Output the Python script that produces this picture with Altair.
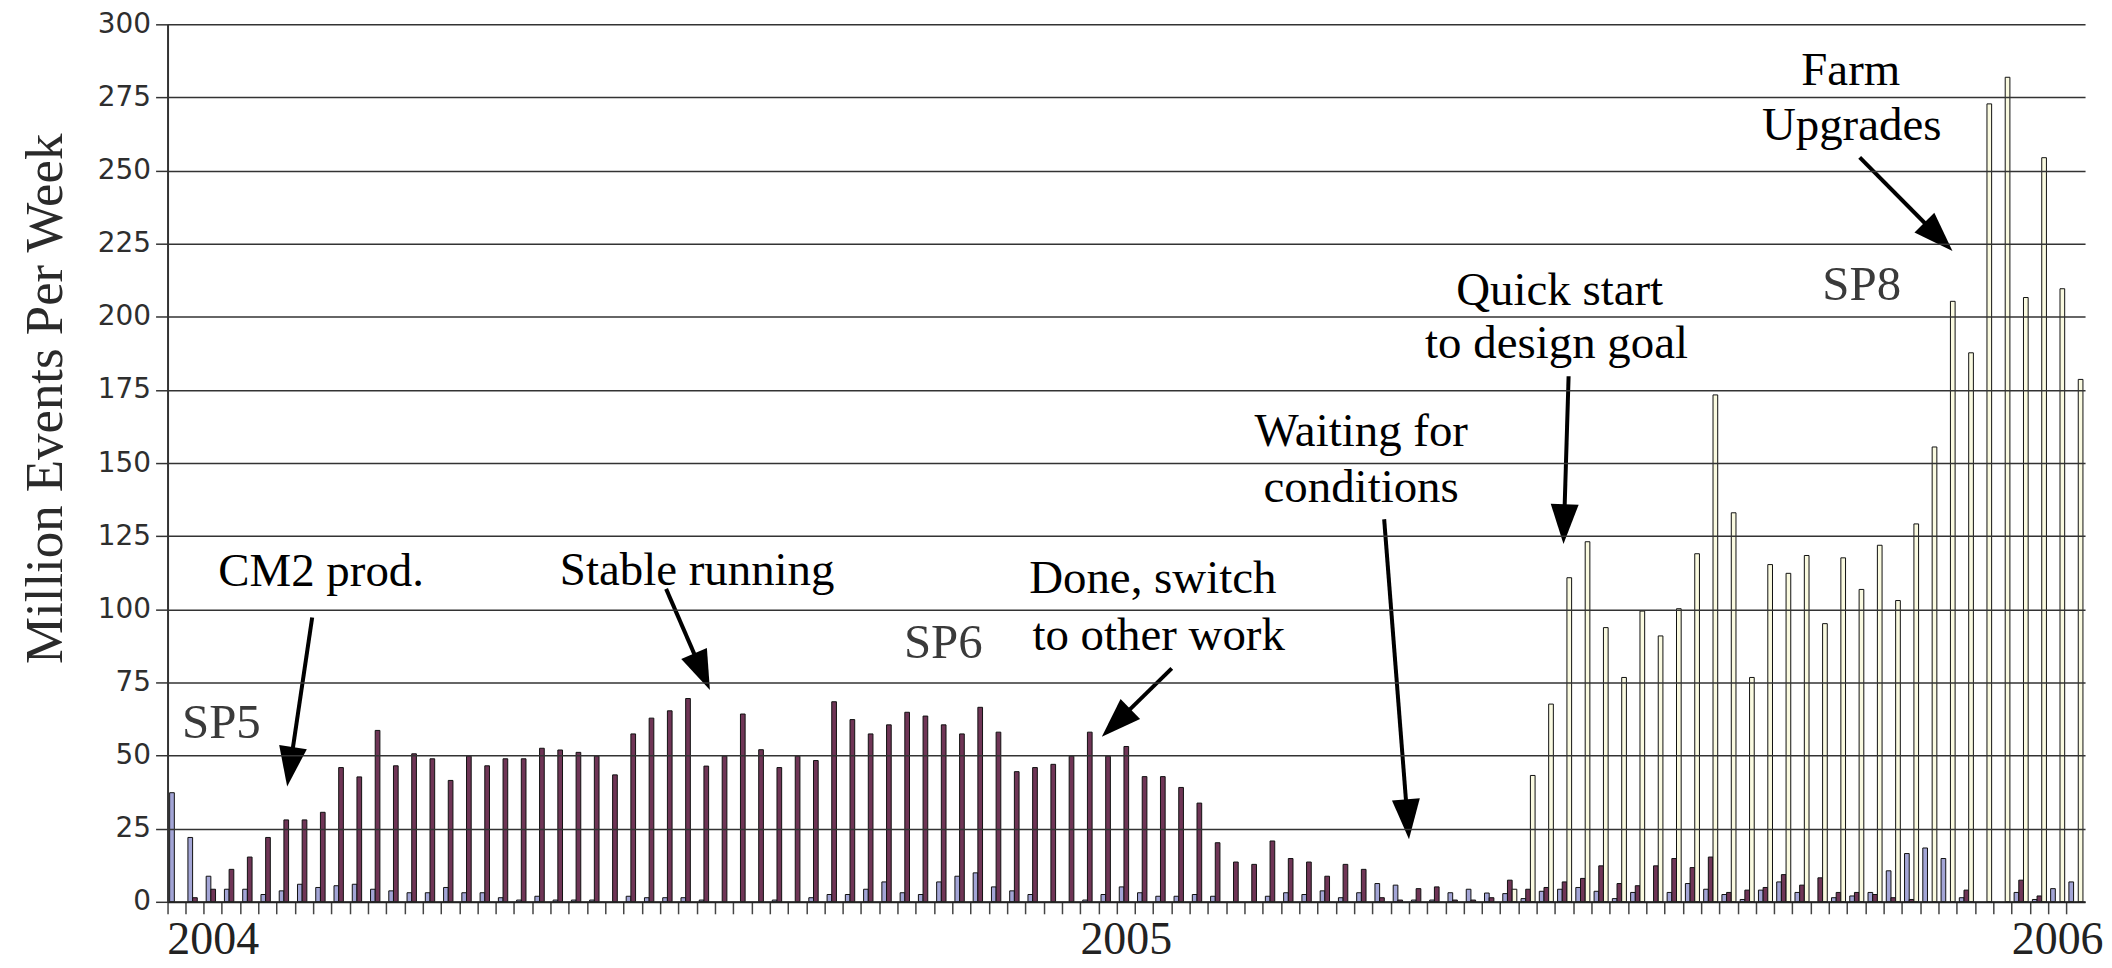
import math
import altair as alt
import pandas as pd

# ---------------- data ----------------
weeks = list(range(105))
series_names = ["SP5", "SP6", "SP8"]
series_colors = ["#a3a5d6", "#6f3556", "#fafae0"]

sp5 = [37.3, 22.0, 8.75, 4.3, 4.3, 2.5, 3.75, 6.0, 4.9, 5.5,
       6.0, 4.3, 3.75, 3.1, 3.1, 4.9, 3.1, 3.1, 1.4, 0.6,
       1.9, 0.6, 0.6, 0.6, 0, 1.9, 1.4, 1.4, 1.4, 0.6,
       0, 0, 0, 0.6, 0, 1.4, 2.5, 2.5, 4.3, 6.8,
       3.1, 2.5, 6.8, 8.75, 9.9, 5.1, 3.75, 2.5, 0, 0,
       0.6, 2.5, 5.1, 3.1, 1.9, 1.9, 2.5, 1.9, 0, 0,
       1.9, 3.1, 2.5, 3.75, 1.4, 3.1, 6.25, 5.7, 0.6, 0.6,
       3.1, 4.3, 3.0, 2.8, 1.1, 3.6, 4.3, 4.9, 3.6, 1.1,
       3.2, 0, 3.2, 6.25, 4.3, 2.5, 0.8, 4.0, 6.8, 3.2,
       0, 1.4, 2.0, 3.2, 10.6, 16.5, 18.4, 14.8, 1.4, 0,
       0, 3.2, 0.8, 4.5, 6.8]

sp6 = [0, 1.4, 4.3, 11.1, 15.3, 22.0, 28.0, 28.0, 30.6, 45.9,
       42.7, 58.6, 46.5, 50.6, 48.9, 41.5, 49.8, 46.5, 48.9, 48.9,
       52.5, 51.9, 51.1, 49.8, 43.4, 57.4, 62.8, 65.3, 69.5, 46.4,
       49.8, 64.2, 52.0, 45.9, 49.8, 48.3, 68.4, 62.3, 57.4, 60.5,
       64.8, 63.5, 60.5, 57.4, 66.5, 58.0, 44.5, 45.9, 47.0, 49.8,
       58.0, 49.8, 53.1, 42.8, 42.8, 39.1, 33.75, 20.2, 13.6, 12.8,
       20.8, 14.8, 13.6, 8.75, 12.8, 11.1, 1.4, 0.6, 4.5, 5.1,
       0.6, 0.6, 1.4, 7.4, 4.3, 4.9, 6.8, 8.0, 12.3, 6.25,
       5.5, 12.3, 14.8, 11.7, 15.3, 3.2, 4.0, 4.9, 9.3, 5.7,
       8.2, 3.2, 3.2, 2.5, 1.4, 0.8, 0, 0, 4.0, 0,
       0, 7.4, 2.0, 0, 0]

sp8 = [0] * 73 + [
       4.3, 43.2, 67.6, 110.8, 123.1, 93.75, 76.7, 99.4, 90.9, 100.2,
       119.0, 173.3, 133.0, 76.7, 115.3, 112.3, 118.4, 95.1, 117.6, 106.8,
       121.9, 103.0, 129.2, 155.5, 205.3, 187.7, 272.8, 281.9, 206.6, 254.4,
       209.6, 178.6]

y_ticks = [0, 25, 50, 75, 100, 125, 150, 175, 200, 225, 250, 275, 300]
year_labels = ["2004", "2005", "2006"]
year_weeks = [2, 52, 103]

# annotation texts (week position, value position of baseline)
note_text = ["CM2 prod.", "Stable running", "Done, switch", "to other work",
             "Waiting for", "conditions", "Quick start", "to design goal",
             "Farm", "Upgrades"]
note_week = [8.41, 29.0, 53.95, 54.27, 65.36, 65.36, 76.23, 76.06, 92.17, 92.22]
note_value = [108.0, 108.4, 105.7, 86.0, 155.9, 136.6, 203.9, 185.8, 279.3, 260.3]

phase_text = ["SP5", "SP6", "SP8"]
phase_week = [2.95, 42.48, 92.77]
phase_value = [56.1, 83.2, 205.9]

arrow_from_week = [7.92, 27.30, 54.99, 66.62, 76.72, 92.66]
arrow_from_value = [97.2, 107.0, 79.8, 130.8, 179.7, 254.5]
arrow_to_week = [6.55, 29.70, 51.16, 67.98, 76.44, 97.74]
arrow_to_value = [39.4, 72.4, 56.4, 21.4, 122.3, 222.5]

# ---------------- layout ----------------
W, H = 1923, 880
N = len(weeks)
YMAX = y_ticks[-1]
px_w = W / N
px_v = H / YMAX
HEAD = 40.0

bars_df = pd.DataFrame({
    "week": weeks * 3,
    "series": [s for s in series_names for _ in weeks],
    "value": sp5 + sp6 + sp8,
})

# arrows: shaft ends under the head, head rotated along the shaft
rw, rv, rw2, rv2, hw, hv, ha = [], [], [], [], [], [], []
for fw, fv, tw, tv in zip(arrow_from_week, arrow_from_value, arrow_to_week, arrow_to_value):
    dx = (tw - fw) * px_w
    dy = -(tv - fv) * px_v
    L = math.hypot(dx, dy)
    ux, uy = dx / L, dy / L
    back = HEAD * 0.6
    rw.append(fw); rv.append(fv)
    rw2.append(tw - ux * back / px_w)
    rv2.append(tv + uy * back / px_v)
    hw.append(tw); hv.append(tv)
    ha.append(math.degrees(math.atan2(-dx, dy)) % 360)

arrows_df = pd.DataFrame({"wk": rw, "value": rv, "wk2": rw2, "value2": rv2})
heads_df = pd.DataFrame({"wk": hw, "value": hv, "ang": ha})
notes_df = pd.DataFrame({"wk": note_week, "value": note_value, "label": note_text})
phases_df = pd.DataFrame({"wk": phase_week, "value": phase_value, "label": phase_text})

label_expr = "".join(
    f"datum.value == {w} ? '{t}' : " for w, t in zip(year_weeks, year_labels)
) + "''"

y_enc = alt.Y(
    "value:Q",
    scale=alt.Scale(domain=[0, YMAX], nice=False, zero=True),
    axis=alt.Axis(
        values=y_ticks,
        title="Million Events Per Week",
        titleFont="Liberation Serif",
        titleFontSize=53,
        titleFontWeight="normal",
        titleColor="#2a2a2a",
        titleAngle=270,
        titleAlign="center",
        titleBaseline="middle",
        titleX=-122,
        titleY=375,
        labelFont="DejaVu Sans",
        labelFontSize=28,
        labelColor="#2e2e2e",
        labelPadding=5,
        tickSize=12,
        tickColor="#333333",
        tickWidth=1.5,
        domainColor="#333333",
        domainWidth=2,
        grid=True,
        gridColor="#333333",
        gridWidth=1.5,
        zindex=1,
    ),
)

x_ann = alt.X("wk:Q", scale=alt.Scale(domain=[0, N], nice=False, zero=False), axis=None)

bars = alt.Chart(bars_df).transform_filter("datum.value > 0").mark_bar(
    stroke="#111111", strokeWidth=1, opacity=1
).encode(
    x=alt.X(
        "week:O",
        scale=alt.Scale(paddingInner=0, paddingOuter=0),
        axis=alt.Axis(
            title=None,
            bandPosition=0,
            labelExpr=label_expr,
            labelAngle=0,
            labelFont="Liberation Serif",
            labelFontSize=46,
            labelColor="#222222",
            labelPadding=4,
            labelOverlap=False,
            tickSize=12,
            tickColor="#444444",
            tickWidth=1.5,
            domainColor="#222222",
            domainWidth=2,
            grid=False,
            zindex=1,
        ),
    ),
    xOffset=alt.XOffset(
        "series:N",
        scale=alt.Scale(domain=series_names, paddingInner=0, paddingOuter=0.45),
    ),
    y=y_enc,
    color=alt.Color(
        "series:N",
        scale=alt.Scale(domain=series_names, range=series_colors),
        legend=None,
    ),
)

rules = alt.Chart(arrows_df).mark_rule(strokeWidth=4, color="#000000").encode(
    x=x_ann, y=y_enc, x2="wk2:Q", y2="value2:Q"
)

heads = alt.Chart(heads_df).mark_point(
    shape="M-0.7,-2L0.7,-2L0,0Z", size=HEAD * HEAD, filled=True,
    color="#000000", opacity=1, strokeWidth=0
).encode(
    x=x_ann, y=y_enc, angle=alt.Angle("ang:Q", scale=None)
)

notes = alt.Chart(notes_df).mark_text(
    font="Liberation Serif", fontSize=47, align="center", baseline="alphabetic",
    color="#000000"
).encode(x=x_ann, y=y_enc, text="label:N")

phases = alt.Chart(phases_df).mark_text(
    font="Liberation Serif", fontSize=49, align="center", baseline="alphabetic",
    color="#3a3a3a"
).encode(x=x_ann, y=y_enc, text="label:N")

chart = alt.layer(bars, rules, heads, notes, phases).resolve_scale(
    x="independent"
).properties(
    width=W,
    height=H,
    padding={"left": 160, "top": 15, "right": 19, "bottom": 63},
    autosize=alt.AutoSizeParams(type="none"),
    background="white",
).configure_view(stroke=None)

chart.save("out.html", embed_options={"renderer": "svg", "actions": False})
